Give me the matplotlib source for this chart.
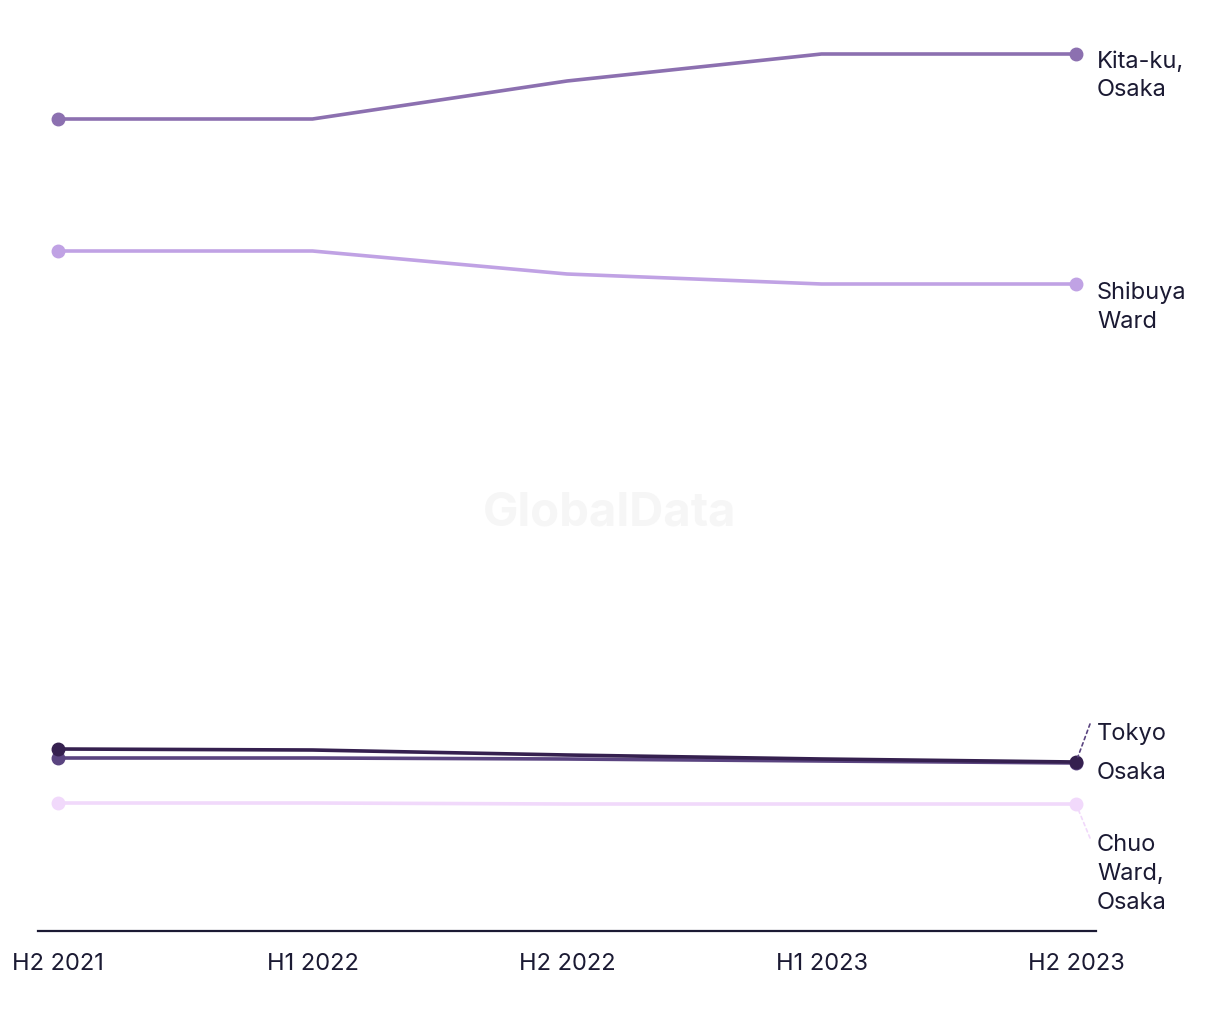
import matplotlib.pyplot as plt

plt.rcParams['font.family'] = ['Inter', 'DejaVu Sans']

periods = ['H2 2021', 'H1 2022', 'H2 2022', 'H1 2023', 'H2 2023']

kita_ku = [812, 812, 850, 877, 877]
shibuya = [680, 680, 657, 647, 647]
tokyo = [182, 181, 176, 172, 169]
osaka = [173, 173, 172, 170, 168]
chuo = [128, 128, 127, 127, 127]

series = [
    ('Kita-ku,\nOsaka', kita_ku, '#8c70b0', -21),
    ('Shibuya\nWard', shibuya, '#c0a2e4', -22),
    ('Osaka', osaka, '#5a4480', -9),
    ('Tokyo', tokyo, '#35204f', 29),
    ('Chuo\nWard,\nOsaka', chuo, '#f1d9fb', -69),
]

text_color = '#1b1a33'

fig = plt.figure(figsize=(12.2, 10.2), dpi=100)
ax = fig.add_axes([38 / 1220, 1 - 932 / 1020, (1096 - 38) / 1220, 900 / 1020])

x = list(range(len(periods)))
for name, vals, color, dy in series:
    ax.plot(x, vals, color=color, lw=2.6, marker='o', markersize=9,
            markevery=[0, len(vals) - 1], solid_capstyle='round', zorder=3)

# labels at the right end, some pushed apart with dashed leaders
for name, vals, color, dy in series:
    ax.annotate(name, xy=(x[-1], vals[-1]), xytext=(21, dy),
                textcoords='offset pixels', ha='left', va='center',
                fontsize=17, color=text_color, linespacing=1.4)

ax.annotate('', xy=(x[-1], tokyo[-1]), xytext=(14, 38), textcoords='offset pixels',
            arrowprops=dict(arrowstyle='-', ls=(0, (2, 2)), color='#5a4480', lw=1.2,
                            shrinkA=0, shrinkB=4))
ax.annotate('', xy=(x[-1], chuo[-1]), xytext=(14, -34), textcoords='offset pixels',
            arrowprops=dict(arrowstyle='-', ls=(0, (2, 2)), color='#f1d9fb', lw=1.2,
                            shrinkA=0, shrinkB=4))

ax.text(0.54, 0.465, 'GlobalData', transform=ax.transAxes, ha='center', va='center',
        fontsize=34, fontweight='bold', color='#f6f6f6', zorder=0)

step = (1076 - 58) / 4
pad = 20 / step
ax.set_xlim(-pad, 4 + pad)
ax.set_ylim(0, 900)
ax.set_xticks(x)
ax.set_xticklabels(periods, fontsize=17, color=text_color)
ax.tick_params(axis='x', length=0, pad=15)
ax.set_yticks([])
for side in ['top', 'right', 'left']:
    ax.spines[side].set_visible(False)
ax.spines['bottom'].set_color(text_color)
ax.spines['bottom'].set_linewidth(1.6)

fig.savefig('out.png', dpi=100)
